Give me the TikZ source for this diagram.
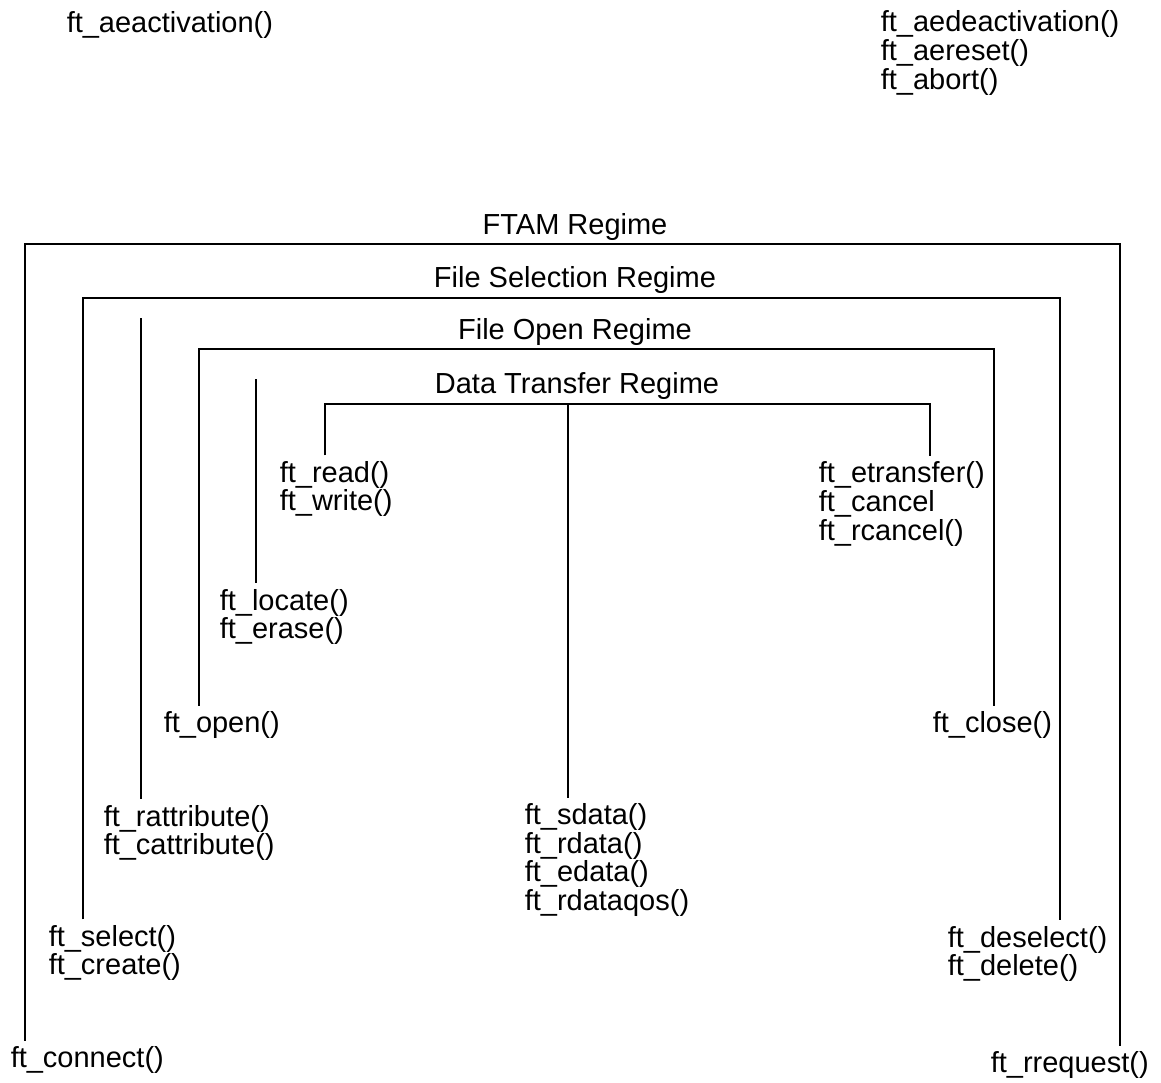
\documentclass[tikz,border=0pt]{standalone}
\usepackage{fontspec}
\setmainfont{Liberation Sans}
\usetikzlibrary{positioning}

\begin{document}
\begin{tikzpicture}[
x=0.5pt, y=-0.5pt,
line width=0.75pt,
every node/.style={
inner sep=0pt,
align=left,
font=\fontsize{14.5}{14.3}\selectfont
},
call/.style={anchor=west},
regime/.style={anchor=center},
bracket/.style={shorten <=2.5pt, shorten >=2.5pt}
]
\useasboundingbox (0,0) rectangle (1161,1082);

% primitives outside the regimes
\node[call] (aeact) at (66,25)
{ft\_aeactivation()};

\node[call] (aedeact) at (880,53)
{ft\_aedeactivation()\\ft\_aereset()\\ft\_abort()};

% regime titles
\node[regime] (ftam) at (575,227)
{FTAM Regime};

\node[regime] (fsel) at (575,280)
{File Selection Regime};

\node[regime] (fopen) at (575,332)
{File Open Regime};

\node[regime] (dtr) at (577,386)
{Data Transfer Regime};

% calls
\node[call] (connect) at (10,1060)
{ft\_connect()};

\node[call] (rrequest) at (990,1065)
{ft\_rrequest()};

\node[call] (select) at (48,953)
{ft\_select()\\ft\_create()};

\node[call] (deselect) at (947,954)
{ft\_deselect()\\ft\_delete()};

\node[call] (rattr) at (103,833)
{ft\_rattribute()\\ft\_cattribute()};

\node[call] (open) at (163,725)
{ft\_open()};

\node[call] (close) at (932,725)
{ft\_close()};

\node[call] (locate) at (219,617)
{ft\_locate()\\ft\_erase()};

\node[call] (readwrite) at (279,489)
{ft\_read()\\ft\_write()};

\node[call] (etransfer) at (818,504)
{ft\_etransfer()\\ft\_cancel\\ft\_rcancel()};

\node[call] (sdata) at (524,860)
{ft\_sdata()\\ft\_rdata()\\ft\_edata()\\ft\_rdataqos()};

% bracket corners
\coordinate (ftamL) at (25,244);
\coordinate (ftamR) at (1120,244);
\coordinate (fselL) at (83,298);
\coordinate (fselR) at (1060,298);
\coordinate (fopenL) at (199,349);
\coordinate (fopenR) at (994,349);
\coordinate (dtrL) at (325,404);
\coordinate (dtrM) at (568,404);
\coordinate (dtrR) at (930,404);
\coordinate (attrTop) at (141,318);
\coordinate (locTop) at (256,379);

\draw[bracket] (ftamL |- connect.north) -- (ftamL) -- (ftamR) -- (ftamR |- rrequest.north);
\draw[bracket] (fselL |- select.north) -- (fselL) -- (fselR) -- (fselR |- deselect.north);
\draw[bracket] (fopenL |- open.north) -- (fopenL) -- (fopenR) -- (fopenR |- close.north);
\draw[bracket] (dtrL |- readwrite.north) -- (dtrL) -- (dtrR) -- (dtrR |- etransfer.north);
\draw[shorten >=2.5pt] (dtrM) -- (dtrM |- sdata.north);
\draw[shorten >=2.5pt] (attrTop) -- (attrTop |- rattr.north);
\draw[shorten >=2.5pt] (locTop) -- (locTop |- locate.north);

\end{tikzpicture}
\end{document}
